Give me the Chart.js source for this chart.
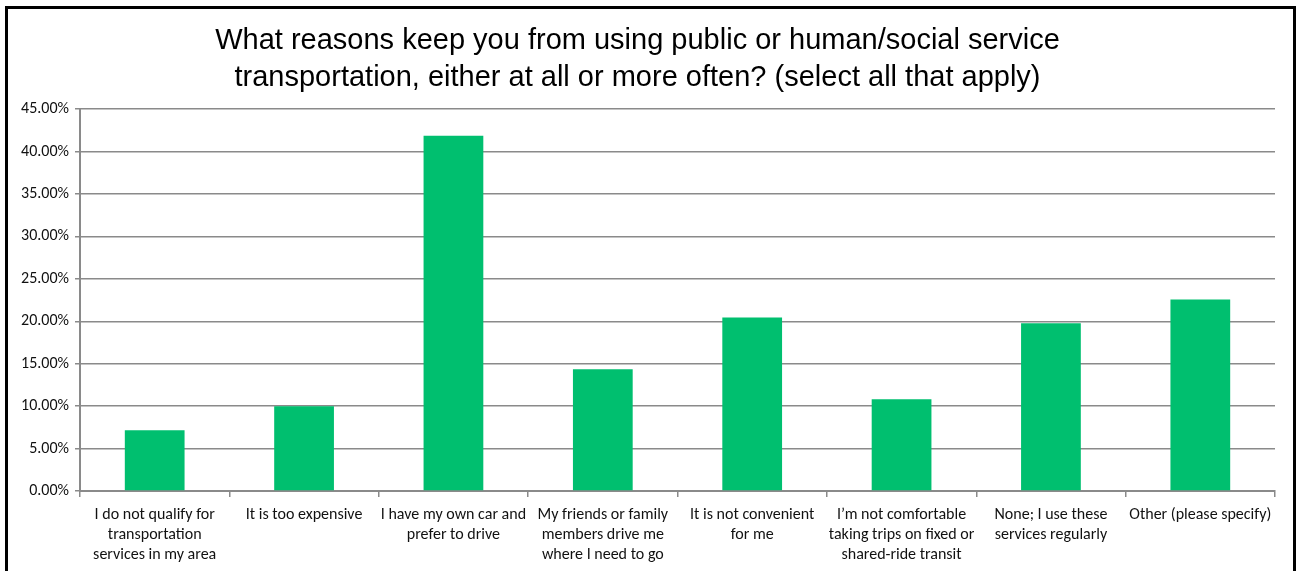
<!DOCTYPE html>
<html>
<head>
<meta charset="utf-8">
<script src="https://cdn.jsdelivr.net/npm/chart.js@4"></script>
<style>
  html, body { margin: 0; padding: 0; background: #fff; overflow: hidden; }
  #frame {
    position: absolute; left: 5px; top: 6px;
    width: 1291px; height: 620px;
    border: 3px solid #000; box-sizing: border-box;
  }
  #chart { position: absolute; left: 0; top: 0; }
</style>
</head>
<body>
<div id="frame"></div>
<canvas id="chart" width="1298" height="571"></canvas>
<script>
const titleLines = [
    'What reasons keep you from using public or human/social service',
    'transportation, either at all or more often? (select all that apply)'
];

const reasons = [
    ['I do not qualify for', 'transportation', 'services in my area'],
    'It is too expensive',
    ['I have my own car and', 'prefer to drive'],
    ['My friends or family', 'members drive me', 'where I need to go'],
    ['It is not convenient', 'for me'],
    ['I\u2019m not comfortable', 'taking trips on fixed or', 'shared-ride transit'],
    ['None; I use these', 'services regularly'],
    'Other (please specify)'
];

// percent of respondents
const shares = [7.17, 9.98, 41.87, 14.34, 20.45, 10.81, 19.78, 22.56];

const yTicks = [0, 5, 10, 15, 20, 25, 30, 35, 40, 45];

const tickFont = { family: "Carlito, Calibri, Lato, 'Open Sans', sans-serif", size: 16, lineHeight: 1.25 };

let chart = new Chart(document.getElementById('chart'), {
    type: 'bar',
    data: {
        labels: reasons,
        datasets: [{
            label: 'Responses',
            data: shares,
            backgroundColor: '#00BF6F',
            borderWidth: 0,
            barPercentage: 0.4,
            categoryPercentage: 1
        }]
    },
    options: {
        responsive: false,
        animation: false,
        devicePixelRatio: 1,
        layout: { padding: { left: 0, right: 23, top: 0, bottom: 0 } },
        scales: {
            x: {
                grid: {
                    display: true,
                    drawOnChartArea: false,
                    offset: true,
                    color: '#8a8a8a',
                    lineWidth: 1.5,
                    tickLength: 6
                },
                border: { color: '#8a8a8a', width: 2 },
                ticks: {
                    autoSkip: false,
                    maxRotation: 0,
                    minRotation: 0,
                    color: '#111',
                    font: tickFont,
                    padding: 8
                },
                afterFit: (scale) => { scale.height = 80; }
            },
            y: {
                min: 0,
                max: 45,
                afterBuildTicks: (scale) => {
                    scale.ticks = yTicks.map(v => ({ value: v }));
                },
                grid: {
                    color: '#8a8a8a',
                    lineWidth: 1.5,
                    tickLength: 5
                },
                border: { color: '#8a8a8a', width: 2 },
                ticks: {
                    color: '#111',
                    font: tickFont,
                    padding: 6,
                    callback: (v) => v.toFixed(2) + '%'
                },
                afterFit: (scale) => { scale.width = 80; }
            }
        },
        plugins: {
            legend: { display: false },
            tooltip: { enabled: false },
            title: {
                display: true,
                text: titleLines,
                color: '#000',
                font: { family: "'Liberation Sans', Arial, sans-serif", size: 29, weight: 'normal', lineHeight: 1.28 },
                padding: { top: 22, bottom: 13 }
            }
        }
    }
});
</script>
</body>
</html>
